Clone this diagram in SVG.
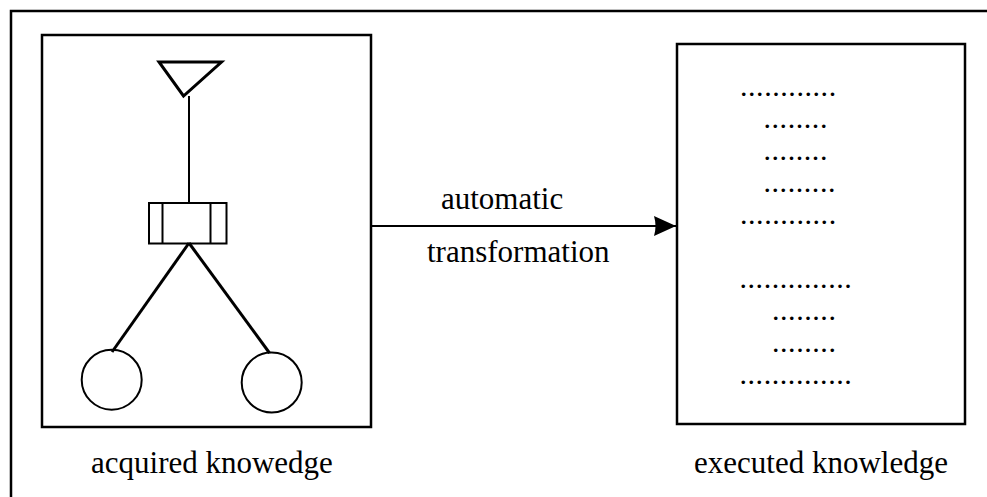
<svg xmlns="http://www.w3.org/2000/svg" width="987" height="497" viewBox="0 0 987 497">
  <style>
    .frame { fill: none; stroke: #000; stroke-width: 2.5; }
    .thin { fill: none; stroke: #000; stroke-width: 2; }
    .bold { fill: none; stroke: #000; stroke-width: 3; }
    .label { font-family: "Liberation Serif", "Times New Roman", serif; font-size: 31px; fill: #000; }
    .dots { font-family: "Liberation Serif", "Times New Roman", serif; font-size: 30px; letter-spacing: 0.56px; fill: #000; }
  </style>
  <defs>
    <marker id="arrowhead" markerUnits="userSpaceOnUse" markerWidth="24" markerHeight="22" refX="22" refY="10" orient="auto">
      <path d="M0,0 L22,10 L0,20 Q3,10 0,0 Z" fill="#000"/>
    </marker>
  </defs>

  <rect width="987" height="497" fill="#fff"/>

  <!-- outer frame, running off the right and bottom edges -->
  <rect id="outer-frame" class="frame" x="11" y="11" width="990" height="500"/>

  <!-- acquired knowledge: tree structure -->
  <g id="acquired">
    <rect class="frame" x="42" y="35" width="329" height="392"/>
    <polygon class="bold" points="159,62 221.5,62 183.5,96"/>
    <line class="thin" x1="189" y1="96" x2="189" y2="203"/>
    <rect class="thin" x="149" y="203" width="77.5" height="40.5"/>
    <line class="thin" x1="162.5" y1="203" x2="162.5" y2="243.5"/>
    <line class="thin" x1="210.5" y1="203" x2="210.5" y2="243.5"/>
    <line class="bold" x1="189" y1="243" x2="112" y2="352"/>
    <line class="bold" x1="189" y1="243" x2="269.5" y2="353"/>
    <circle class="thin" cx="111.7" cy="379.7" r="30"/>
    <circle class="thin" cx="271.7" cy="382.5" r="30"/>
    <text class="label" x="91" y="473">acquired knowedge</text>
  </g>

  <!-- executed knowledge: listing -->
  <g id="executed">
    <rect class="frame" x="677" y="44" width="288" height="380"/>
    <text class="dots" x="740" y="96">............</text>
    <text class="dots" x="763.5" y="128">........</text>
    <text class="dots" x="763.5" y="160">........</text>
    <text class="dots" x="763.5" y="192">.........</text>
    <text class="dots" x="740" y="224">............</text>
    <text class="dots" x="739.5" y="288">..............</text>
    <text class="dots" x="772" y="320">........</text>
    <text class="dots" x="772" y="352">........</text>
    <text class="dots" x="739.5" y="384">..............</text>
    <text class="label" x="694" y="473">executed knowledge</text>
  </g>

  <!-- transformation connector -->
  <g id="connectors">
    <line class="thin" x1="372" y1="226" x2="676" y2="226" marker-end="url(#arrowhead)"/>
    <text class="label" x="441" y="209">automatic</text>
    <text class="label" x="427" y="262">transformation</text>
  </g>
</svg>
